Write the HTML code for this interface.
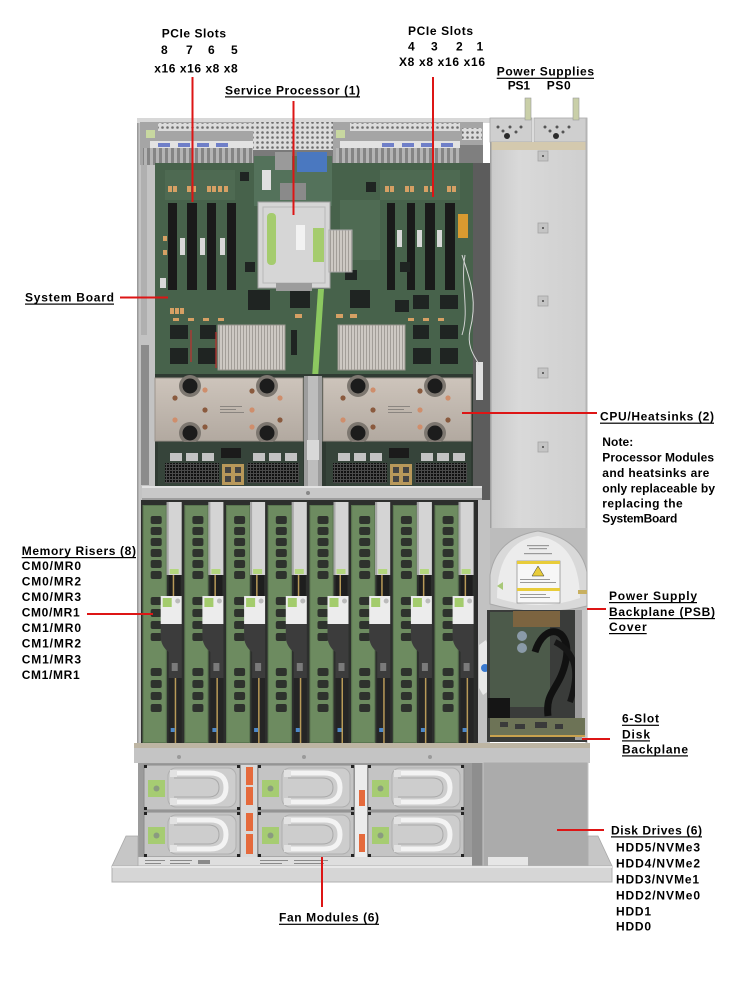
<!DOCTYPE html>
<html><head><meta charset="utf-8">
<style>
html,body{margin:0;padding:0;background:#fff;}
svg{display:block;}
.t{font-family:"Liberation Sans",Arial,sans-serif;font-weight:bold;font-size:12px;fill:#000;}
</style></head><body>
<svg width="735" height="981" viewBox="0 0 735 981" xmlns="http://www.w3.org/2000/svg">
<defs>
  <pattern id="mesh" width="5" height="5" patternUnits="userSpaceOnUse">
    <rect width="5" height="5" fill="#dcdcdc"/><circle cx="2.5" cy="2.5" r="1.3" fill="#6e6e6e"/>
  </pattern>
  <pattern id="vent" width="6" height="6" patternUnits="userSpaceOnUse">
    <rect width="6" height="6" fill="#858585"/><rect x="0" y="0" width="3" height="6" fill="#b4b4b4"/>
  </pattern>
  <pattern id="fins" width="3" height="4" patternUnits="userSpaceOnUse">
    <rect width="3" height="4" fill="#cdc9c3"/><rect width="1" height="4" fill="#a29e98"/>
  </pattern>
  <pattern id="pins" width="3" height="3" patternUnits="userSpaceOnUse">
    <rect width="3" height="3" fill="#4a4a4a"/><rect width="2" height="2" fill="#111"/>
  </pattern>
  <linearGradient id="hs" x1="0" y1="0" x2="0" y2="1">
    <stop offset="0" stop-color="#cdc4bb"/><stop offset="1" stop-color="#b2a9a0"/>
  </linearGradient>
  <linearGradient id="psu" x1="0" y1="0" x2="1" y2="0">
    <stop offset="0" stop-color="#c9c9c9"/><stop offset="0.3" stop-color="#d9d9d9"/><stop offset="1" stop-color="#cfcfcf"/>
  </linearGradient>

  <g id="riser">
    <rect x="0" y="500" width="42" height="245" fill="#2d2f2d"/>
    <rect x="1" y="505" width="24" height="238" fill="#6d8b60"/>
    <rect x="1.5" y="505.5" width="23" height="237" fill="none" stroke="#5a7650" stroke-width="1"/>
    <rect x="9" y="516" width="11" height="8" rx="2" fill="#2e322d"/>
    <rect x="9" y="527" width="11" height="8" rx="2" fill="#2e322d"/>
    <rect x="9" y="538" width="11" height="8" rx="2" fill="#2e322d"/>
    <rect x="9" y="549" width="11" height="8" rx="2" fill="#2e322d"/>
    <rect x="9" y="560" width="11" height="8" rx="2" fill="#2e322d"/>
    <rect x="9" y="571" width="11" height="8" rx="2" fill="#2e322d"/>
    <rect x="9" y="597" width="11" height="8" rx="2" fill="#2e322d"/>
    <rect x="9" y="609" width="11" height="8" rx="2" fill="#2e322d"/>
    <rect x="9" y="621" width="11" height="8" rx="2" fill="#2e322d"/>
    <rect x="9" y="633" width="11" height="8" rx="2" fill="#2e322d"/>
    <rect x="9" y="668" width="11" height="8" rx="2" fill="#2e322d"/>
    <rect x="9" y="680" width="11" height="8" rx="2" fill="#2e322d"/>
    <rect x="9" y="692" width="11" height="8" rx="2" fill="#2e322d"/>
    <rect x="9" y="704" width="11" height="8" rx="2" fill="#2e322d"/>
    <rect x="25" y="502" width="15" height="73" fill="#d4d4d4"/>
    <rect x="25" y="502" width="2" height="73" fill="#a8a8a8"/>
    <rect x="28" y="569" width="9" height="5" fill="#b3d67e"/>
    <rect x="27" y="575" width="12" height="21" fill="#1e1e1e"/>
    <rect x="31" y="575" width="1.5" height="21" fill="#b89a58"/>
    <rect x="19" y="596" width="21" height="28" fill="#ececec"/>
    <rect x="21" y="598" width="9" height="9" fill="#a3cc6c"/>
    <circle cx="36" cy="601" r="2.5" fill="#bbbbbb"/>
    <path d="M19 624 H40 V678 H27 V652 Q19 646 19 636 Z" fill="#3c3c3c"/>
    <rect x="30" y="663" width="6" height="8" fill="#7a7a7a"/>
    <rect x="27" y="678" width="13" height="65" fill="#252525"/>
    <rect x="33" y="678" width="1.5" height="65" fill="#b89a58"/>
    <rect x="29" y="728" width="4" height="4" fill="#4d88c8"/>
  </g>

  <g id="cpu">
    <rect x="0" y="378" width="148" height="63" fill="url(#hs)" stroke="#9c948c"/>
    <circle cx="35" cy="386" r="11" fill="#7d7770"/><circle cx="35" cy="386" r="7.5" fill="#1c1c1c"/>
    <circle cx="112" cy="386" r="11" fill="#7d7770"/><circle cx="112" cy="386" r="7.5" fill="#1c1c1c"/>
    <circle cx="35" cy="433" r="11" fill="#7d7770"/><circle cx="35" cy="433" r="7.5" fill="#1c1c1c"/>
    <circle cx="112" cy="433" r="11" fill="#7d7770"/><circle cx="112" cy="433" r="7.5" fill="#1c1c1c"/>
    <circle cx="50" cy="390" r="2.6" fill="#cf8e6c"/>
    <circle cx="97" cy="391" r="2.6" fill="#8a5a3e"/>
    <circle cx="125" cy="398" r="2.6" fill="#cf8e6c"/>
    <circle cx="20" cy="398" r="2.6" fill="#8a5a3e"/>
    <circle cx="50" cy="410" r="2.6" fill="#8a5a3e"/>
    <circle cx="97" cy="410" r="2.6" fill="#cf8e6c"/>
    <circle cx="20" cy="420" r="2.6" fill="#cf8e6c"/>
    <circle cx="50" cy="427" r="2.6" fill="#8a5a3e"/>
    <circle cx="97" cy="427" r="2.6" fill="#cf8e6c"/>
    <circle cx="125" cy="420" r="2.6" fill="#8a5a3e"/>
    <rect x="65" y="406" width="22" height="1" fill="#8a8580"/>
    <rect x="65" y="409" width="16" height="1" fill="#8a8580"/>
    <rect x="65" y="412" width="24" height="1" fill="#8a8580"/>
    <rect x="3" y="442" width="145" height="45" fill="#36443a"/>
    <rect x="15" y="453" width="12" height="8" fill="#c3c3c3"/>
    <rect x="31" y="453" width="12" height="8" fill="#c3c3c3"/>
    <rect x="47" y="453" width="12" height="8" fill="#c3c3c3"/>
    <rect x="98" y="453" width="12" height="8" fill="#c3c3c3"/>
    <rect x="114" y="453" width="12" height="8" fill="#c3c3c3"/>
    <rect x="130" y="453" width="12" height="8" fill="#c3c3c3"/>
    <rect x="10" y="463" width="54" height="20" fill="url(#pins)"/>
    <rect x="92" y="463" width="52" height="20" fill="url(#pins)"/>
    <rect x="67" y="464" width="22" height="21" fill="#b8985a"/>
    <rect x="70" y="467" width="6" height="6" fill="#444"/>
    <rect x="80" y="467" width="6" height="6" fill="#444"/>
    <rect x="70" y="476" width="6" height="6" fill="#444"/>
    <rect x="80" y="476" width="6" height="6" fill="#444"/>
    <rect x="66" y="448" width="20" height="10" fill="#1b1b1b"/>
  </g>

  <g id="fan">
    <rect x="0" y="0" width="96" height="45" fill="#c4c4c4" stroke="#8c8c8c"/>
    <rect x="24" y="3" width="68" height="39" rx="8" fill="#cdcdcd" stroke="#b0b0b0"/>
    <path d="M30 8 H66 Q82 8 82 22.5 Q82 37 66 37 H30" fill="none" stroke="#f3f3f3" stroke-width="5"/>
    <path d="M30 13 H64 Q75 13 75 22.5 Q75 32 64 32 H30" fill="none" stroke="#a9a9a9" stroke-width="1"/>
    <rect x="26" y="5" width="7" height="7" fill="#e2e2e2"/>
    <rect x="26" y="33" width="7" height="7" fill="#e2e2e2"/>
    <rect x="4" y="15" width="17" height="17" fill="#a6cc72"/>
    <circle cx="12.5" cy="23.5" r="3" fill="#8a9a80"/>
    <rect x="0" y="0" width="3" height="3" fill="#222"/>
    <rect x="93" y="0" width="3" height="3" fill="#222"/>
    <rect x="0" y="42" width="3" height="3" fill="#222"/>
    <rect x="93" y="42" width="3" height="3" fill="#222"/>
  </g>
</defs>

<rect width="735" height="981" fill="#fff"/>

<!-- ================= CHASSIS ================= -->
<!-- left wall -->
<rect x="137" y="119" width="18" height="630" fill="#c3c3c3"/>
<rect x="141" y="165" width="6" height="170" fill="#b0b0b0"/>
<rect x="141" y="345" width="8" height="140" fill="#8c8c8c"/>
<rect x="137" y="119" width="1.5" height="630" fill="#9a9a9a"/>

<!-- rear top -->
<rect x="137" y="118" width="353" height="5" fill="#d8d8d8"/>
<rect x="140" y="122" width="113" height="43" fill="#a5a5a5"/>
<rect x="158" y="123" width="95" height="8" fill="url(#mesh)"/>
<rect x="146" y="130" width="9" height="8" fill="#c8d8a0"/>
<rect x="150" y="141" width="103" height="7" fill="#e2e2e2"/>
<rect x="158" y="143" width="12" height="4" fill="#6f7fc8"/>
<rect x="178" y="143" width="12" height="4" fill="#6f7fc8"/>
<rect x="197" y="143" width="12" height="4" fill="#6f7fc8"/>
<rect x="216" y="143" width="12" height="4" fill="#6f7fc8"/>
<rect x="143" y="148" width="110" height="17" fill="url(#vent)"/>
<rect x="253" y="122" width="80" height="28" fill="url(#mesh)"/>
<rect x="253" y="150" width="80" height="15" fill="#7a7a7a"/>
<rect x="333" y="122" width="150" height="43" fill="#a5a5a5"/>
<rect x="336" y="130" width="9" height="8" fill="#c8d8a0"/>
<rect x="350" y="123" width="110" height="8" fill="url(#mesh)"/>
<rect x="462" y="128" width="20" height="12" fill="url(#mesh)"/>
<rect x="340" y="141" width="120" height="7" fill="#e2e2e2"/>
<rect x="382" y="143" width="12" height="4" fill="#6f7fc8"/>
<rect x="402" y="143" width="12" height="4" fill="#6f7fc8"/>
<rect x="421" y="143" width="12" height="4" fill="#6f7fc8"/>
<rect x="441" y="143" width="12" height="4" fill="#6f7fc8"/>
<rect x="336" y="148" width="124" height="17" fill="url(#vent)"/>
<rect x="460" y="145" width="23" height="20" fill="#7f7f7f"/>

<!-- board -->
<rect x="155" y="163" width="318" height="325" fill="#47624b"/>
<rect x="165" y="170" width="70" height="30" fill="#4e6a52"/>
<rect x="340" y="200" width="40" height="60" fill="#4f6b53"/>
<rect x="380" y="170" width="80" height="30" fill="#4e6a52"/>
<!-- SP daughter board -->
<rect x="254" y="156" width="78" height="50" fill="#54725b"/>
<rect x="275" y="152" width="17" height="18" fill="#9a9a9a"/>
<rect x="297" y="152" width="30" height="20" fill="#4a78c0"/>
<rect x="262" y="170" width="9" height="20" fill="#e0e0e0"/>
<rect x="280" y="183" width="26" height="17" fill="#8a8a8a"/>
<!-- orange caps -->
<g fill="#d6a064">
<rect x="168" y="186" width="4" height="6"/><rect x="173" y="186" width="4" height="6"/>
<rect x="187" y="186" width="4" height="6"/><rect x="192" y="186" width="4" height="6"/>
<rect x="207" y="186" width="4" height="6"/><rect x="212" y="186" width="4" height="6"/>
<rect x="218" y="186" width="4" height="6"/><rect x="224" y="186" width="4" height="6"/>
<rect x="385" y="186" width="4" height="6"/><rect x="390" y="186" width="4" height="6"/>
<rect x="405" y="186" width="4" height="6"/><rect x="410" y="186" width="4" height="6"/>
<rect x="424" y="186" width="4" height="6"/><rect x="430" y="186" width="4" height="6"/>
<rect x="447" y="186" width="4" height="6"/><rect x="452" y="186" width="4" height="6"/>
<rect x="170" y="308" width="4" height="6"/><rect x="175" y="308" width="4" height="6"/><rect x="180" y="308" width="4" height="6"/>
<rect x="173" y="318" width="6" height="3"/><rect x="188" y="318" width="6" height="3"/><rect x="203" y="318" width="6" height="3"/><rect x="218" y="318" width="6" height="3"/>
<rect x="295" y="314" width="7" height="4"/><rect x="336" y="314" width="7" height="4"/><rect x="350" y="314" width="7" height="4"/>
<rect x="408" y="318" width="6" height="3"/><rect x="423" y="318" width="6" height="3"/><rect x="438" y="318" width="6" height="3"/>
<rect x="163" y="236" width="4" height="5"/><rect x="163" y="250" width="4" height="5"/>
</g>
<!-- PCIe slots -->
<g fill="#1a1a1a">
<rect x="168" y="203" width="9" height="87"/><rect x="187" y="203" width="10" height="87"/>
<rect x="207" y="203" width="9" height="87"/><rect x="227" y="203" width="9" height="87"/>
<rect x="387" y="203" width="8" height="87"/><rect x="407" y="203" width="8" height="87"/>
<rect x="425" y="203" width="10" height="87"/><rect x="445" y="203" width="10" height="87"/>
</g>
<g fill="#d8d8d8">
<rect x="180" y="238" width="5" height="17"/><rect x="200" y="238" width="5" height="17"/><rect x="220" y="238" width="5" height="17"/>
<rect x="397" y="230" width="5" height="17"/><rect x="417" y="230" width="5" height="17"/><rect x="437" y="230" width="5" height="17"/>
<rect x="160" y="278" width="6" height="10"/>
</g>
<rect x="458" y="214" width="10" height="24" fill="#d99a30"/>
<!-- chips -->
<g fill="#1f2422">
<rect x="248" y="290" width="22" height="20"/><rect x="290" y="290" width="20" height="18"/>
<rect x="350" y="290" width="20" height="18"/><rect x="395" y="300" width="14" height="12"/>
<rect x="170" y="325" width="18" height="14"/><rect x="200" y="325" width="16" height="14"/>
<rect x="170" y="348" width="18" height="16"/><rect x="198" y="348" width="18" height="16"/>
<rect x="413" y="325" width="16" height="14"/><rect x="440" y="325" width="18" height="14"/>
<rect x="413" y="348" width="18" height="16"/><rect x="440" y="348" width="18" height="16"/>
<rect x="413" y="295" width="16" height="14"/><rect x="440" y="295" width="18" height="14"/>
<rect x="240" y="172" width="9" height="9"/><rect x="366" y="182" width="10" height="10"/>
<rect x="345" y="270" width="12" height="10"/><rect x="291" y="330" width="6" height="25"/>
<rect x="245" y="262" width="10" height="10"/><rect x="400" y="262" width="10" height="10"/>
</g>
<!-- SP card -->
<rect x="258" y="202" width="72" height="86" fill="#d6d6d6" stroke="#a0a0a0"/>
<rect x="263" y="207" width="62" height="76" fill="none" stroke="#b8b8b8"/>
<rect x="267" y="213" width="9" height="52" rx="4" fill="#a5cc6e"/>
<rect x="313" y="228" width="11" height="34" fill="#a5cc6e"/>
<rect x="296" y="225" width="9" height="25" fill="#f2f2f2"/>
<rect x="276" y="283" width="36" height="8" fill="#9c9c9c"/>
<rect x="329" y="230" width="23" height="42" fill="url(#fins)" stroke="#a8a8a8"/>
<!-- small heatsinks -->
<rect x="218" y="325" width="67" height="45" fill="url(#fins)" stroke="#9a968f"/>
<rect x="338" y="325" width="67" height="45" fill="url(#fins)" stroke="#9a968f"/>
<line x1="191" y1="330" x2="191" y2="362" stroke="#c03030" stroke-width="1.2"/>
<line x1="216" y1="332" x2="216" y2="368" stroke="#c03030" stroke-width="1.2"/>
<!-- green cable -->
<polygon points="318,289 324,289 318,378 312,378" fill="#8cc860"/>
<!-- right dark column -->
<rect x="473" y="163" width="17" height="370" fill="#5c5c5c"/>
<rect x="476" y="362" width="7" height="38" fill="#e0e0e0"/>
<path d="M462 255 C470 280, 478 300, 470 330 C466 350, 478 360, 479 365" fill="none" stroke="#d8d8d8" stroke-width="1"/>
<path d="M465 255 C460 285, 470 310, 462 335" fill="none" stroke="#cfcfcf" stroke-width="1"/>

<!-- CPU region -->
<rect x="155" y="374" width="318" height="114" fill="#2f3a32"/>
<use href="#cpu" transform="translate(155,0)"/>
<use href="#cpu" transform="translate(323,0)"/>
<rect x="304" y="376" width="18" height="112" fill="#9d9d9d"/>
<rect x="308" y="376" width="10" height="112" fill="#bdbdbd"/>
<rect x="307" y="440" width="12" height="20" fill="#d8d8d8"/>

<!-- crossbar -->
<rect x="142" y="486" width="340" height="14" fill="#c8c8c8"/>
<rect x="142" y="486" width="340" height="2" fill="#e2e2e2"/>
<rect x="142" y="498" width="340" height="2" fill="#9e9e9e"/>
<circle cx="308" cy="493" r="2" fill="#888"/>

<!-- memory risers -->
<rect x="141" y="500" width="338" height="245" fill="#2c2c2c"/>
<use href="#riser" transform="translate(141.7,0)"/>
<use href="#riser" transform="translate(183.4,0)"/>
<use href="#riser" transform="translate(225.1,0)"/>
<use href="#riser" transform="translate(266.8,0)"/>
<use href="#riser" transform="translate(308.5,0)"/>
<use href="#riser" transform="translate(350.2,0)"/>
<use href="#riser" transform="translate(391.9,0)"/>
<use href="#riser" transform="translate(433.6,0)"/>
<rect x="478" y="500" width="12" height="245" fill="#c2c2c2"/>
<path d="M479 645 L486 640 L490 650 L490 690 L483 695 L479 688 Z" fill="#e8e8e8"/>
<circle cx="485" cy="668" r="4" fill="#3a7ad0"/>

<!-- PSU -->
<rect x="490" y="118" width="42" height="24" fill="#cfcfcf" stroke="#a8a8a8" stroke-width="0.8"/>
<rect x="534" y="118" width="53" height="24" fill="#cfcfcf" stroke="#a8a8a8" stroke-width="0.8"/>
<g fill="#555">
<circle cx="498" cy="127" r="1.5"/><circle cx="503" cy="131" r="1.5"/><circle cx="510" cy="127" r="1.5"/><circle cx="516" cy="132" r="1.5"/><circle cx="521" cy="127" r="1.5"/>
<circle cx="507" cy="136" r="3" fill="#2a2a2a"/>
<circle cx="545" cy="127" r="1.5"/><circle cx="550" cy="131" r="1.5"/><circle cx="557" cy="127" r="1.5"/><circle cx="563" cy="132" r="1.5"/><circle cx="569" cy="127" r="1.5"/>
<circle cx="556" cy="136" r="3" fill="#2a2a2a"/>
</g>
<rect x="525" y="98" width="6" height="22" fill="#c9cfa8" stroke="#9a9a9a" stroke-width="0.6"/>
<rect x="573" y="98" width="6" height="22" fill="#c9cfa8" stroke="#9a9a9a" stroke-width="0.6"/>
<rect x="490" y="142" width="97" height="388" fill="url(#psu)"/>
<rect x="490" y="142" width="97" height="8" fill="#d4c9ae"/>
<rect x="490" y="142" width="1.5" height="388" fill="#a0a0a0"/>
<rect x="585.5" y="118" width="2" height="630" fill="#b4b4b4"/>
<g fill="#c4c4c4" stroke="#a4a4a4" stroke-width="0.8">
<rect x="538" y="151" width="10" height="10"/><rect x="538" y="223" width="10" height="10"/>
<rect x="538" y="296" width="10" height="10"/><rect x="538" y="368" width="10" height="10"/>
<rect x="538" y="442" width="10" height="10"/>
</g>
<g fill="#444">
<circle cx="543" cy="156" r="1"/><circle cx="543" cy="228" r="1"/><circle cx="543" cy="301" r="1"/><circle cx="543" cy="373" r="1"/><circle cx="543" cy="447" r="1"/>
</g>

<!-- PSB cover -->
<rect x="490" y="528" width="97" height="84" fill="#bcbcbc"/>
<path d="M490 604 V575 Q496 538 538 531 Q580 538 587 572 V606 Q540 618 490 604 Z" fill="#d9d9d9" stroke="#a8a8a8"/>
<path d="M497 598 Q497 542 538 536 Q579 542 580 598 Q540 612 497 598 Z" fill="#ececec"/>
<g fill="#9a9a9a">
<rect x="527" y="545" width="22" height="1.2"/><rect x="529" y="548" width="18" height="1.2"/><rect x="524" y="553" width="28" height="1.2"/>
</g>
<rect x="517" y="561" width="43" height="42" fill="#f7f7f7" stroke="#777" stroke-width="0.6"/>
<rect x="517" y="561" width="43" height="3" fill="#e8cc3a"/>
<polygon points="538,566 532,576 544,576" fill="#e8cc3a" stroke="#333" stroke-width="0.5"/>
<rect x="520" y="579" width="30" height="1" fill="#999"/><rect x="520" y="582" width="36" height="1" fill="#999"/>
<rect x="517" y="588" width="43" height="3" fill="#e8cc3a"/>
<rect x="520" y="594" width="26" height="1" fill="#999"/><rect x="520" y="597" width="30" height="1" fill="#999"/>
<rect x="578" y="590" width="9" height="4" fill="#c8b060"/>
<polygon points="497,586 503,582 503,590" fill="#a8c878"/>
<!-- PSB area -->
<rect x="487" y="610" width="100" height="132" fill="#3a3c3a"/>
<rect x="490" y="612" width="60" height="95" fill="#4c5a4a"/>
<rect x="513" y="611" width="47" height="16" fill="#7c6440"/>
<circle cx="522" cy="636" r="5" fill="#8a9aa8"/>
<circle cx="522" cy="648" r="5" fill="#8a9aa8"/>
<path d="M535 652 C545 620, 572 628, 566 660 C560 690, 545 690, 548 716" fill="none" stroke="#111" stroke-width="7"/>
<path d="M555 642 C576 652, 580 672, 570 702" fill="none" stroke="#161616" stroke-width="6"/>
<rect x="575" y="610" width="12" height="130" fill="#9d9d9d"/>
<rect x="582" y="610" width="5" height="130" fill="#c8c8c8"/>
<rect x="488" y="698" width="22" height="20" fill="#151515"/>
<rect x="490" y="718" width="95" height="19" fill="#6d7356"/>
<g fill="#3a3a3a"><rect x="500" y="722" width="8" height="5"/><rect x="515" y="724" width="10" height="5"/><rect x="535" y="722" width="12" height="6"/><rect x="555" y="724" width="8" height="5"/></g>
<rect x="490" y="735" width="95" height="2" fill="#c9a24e"/>

<!-- bottom bar -->
<rect x="134" y="743" width="456" height="20" fill="#c4c4c4"/>
<rect x="134" y="743" width="456" height="5" fill="#bdb5a3"/>
<g fill="#9a9a9a"><circle cx="179" cy="757" r="2"/><circle cx="304" cy="757" r="2"/><circle cx="430" cy="757" r="2"/></g>

<!-- fans -->
<rect x="138" y="763" width="334" height="94" fill="#9b9b9b"/>
<use href="#fan" transform="translate(144,765)"/>
<use href="#fan" transform="translate(258,765)"/>
<use href="#fan" transform="translate(368,765)"/>
<use href="#fan" transform="translate(144,812)"/>
<use href="#fan" transform="translate(258,812)"/>
<use href="#fan" transform="translate(368,812)"/>
<rect x="241" y="765" width="16" height="92" fill="#d9d9d9"/>
<g fill="#e56a3c">
<rect x="246" y="767" width="7" height="18"/><rect x="246" y="787" width="7" height="18"/>
<rect x="246" y="813" width="7" height="18"/><rect x="246" y="834" width="7" height="20"/>
<rect x="359" y="790" width="6" height="16"/><rect x="359" y="834" width="6" height="18"/>
</g>
<rect x="355" y="765" width="12" height="92" fill="#ececec"/>
<rect x="359" y="790" width="6" height="16" fill="#e56a3c"/>
<rect x="359" y="834" width="6" height="18" fill="#e56a3c"/>
<rect x="472" y="763" width="11" height="105" fill="#8e8e8e"/>
<rect x="138" y="857" width="334" height="10" fill="#dedede"/>
<g fill="#8a8a8a">
<rect x="145" y="860" width="20" height="1"/><rect x="145" y="863" width="16" height="1"/>
<rect x="170" y="860" width="22" height="1"/><rect x="170" y="863" width="20" height="1"/>
<rect x="198" y="860" width="12" height="4"/>
<rect x="260" y="860" width="28" height="1"/><rect x="260" y="863" width="22" height="1"/>
<rect x="294" y="860" width="34" height="1"/><rect x="294" y="863" width="30" height="1"/>
</g>
<!-- disk panel -->
<rect x="483" y="762" width="105" height="106" fill="#ababab" stroke="#c6c6c6"/>
<rect x="488" y="857" width="40" height="9" fill="#e6e6e6"/>
<!-- bezel -->
<polygon points="112,866 126,836 138,836 138,866" fill="#c6c6c6" stroke="#a8a8a8" stroke-width="0.8"/>
<polygon points="588,836 598,836 612,866 588,866" fill="#c6c6c6" stroke="#a8a8a8" stroke-width="0.8"/>
<rect x="112" y="866" width="500" height="16" fill="#d6d6d6" stroke="#b0b0b0"/>
<rect x="112" y="866" width="500" height="2" fill="#e8e8e8"/>

<!-- ================= RED LEADERS ================= -->
<g stroke="#dd1515" stroke-width="2" fill="none">
<line x1="192.5" y1="77" x2="192.5" y2="202"/>
<line x1="293.5" y1="101" x2="293.5" y2="215"/>
<line x1="433" y1="77" x2="433" y2="197"/>
<line x1="120" y1="297.5" x2="168" y2="297.5"/>
<line x1="462" y1="413" x2="597" y2="413"/>
<line x1="87" y1="614" x2="153" y2="614"/>
<line x1="587" y1="609" x2="606" y2="609"/>
<line x1="582" y1="739" x2="610" y2="739"/>
<line x1="557" y1="830" x2="604" y2="830"/>
<line x1="322" y1="857" x2="322" y2="907"/>
</g>

<!-- ================= TEXT ================= -->
<g class="t">
<text class="t" x="161.7" y="37.7" textLength="64.3" lengthAdjust="spacing">PCIe Slots</text>
<text class="t" x="161" y="54">8</text>
<text class="t" x="186" y="54">7</text>
<text class="t" x="208" y="54">6</text>
<text class="t" x="231" y="54">5</text>
<text class="t" x="154.3" y="72.7" textLength="83.4" lengthAdjust="spacing">x16 x16 x8 x8</text>

<text class="t" x="408" y="35" textLength="65" lengthAdjust="spacing">PCIe Slots</text>
<text class="t" x="408" y="50.7">4</text>
<text class="t" x="431" y="50.7">3</text>
<text class="t" x="456" y="50.7">2</text>
<text class="t" x="476.5" y="50.7">1</text>
<text class="t" x="399" y="66" textLength="86" lengthAdjust="spacing">X8 x8 x16 x16</text>

<text class="t" x="225" y="94.3" textLength="135" lengthAdjust="spacing">Service Processor (1)</text>
<text class="t" x="496.7" y="75.7" textLength="97.3" lengthAdjust="spacing">Power Supplies</text>
<text class="t" x="507.7" y="89.3" textLength="22.3" lengthAdjust="spacing">PS1</text>
<text class="t" x="546.7" y="89.3" textLength="24" lengthAdjust="spacing">PS0</text>

<text class="t" x="25" y="301.7" textLength="89" lengthAdjust="spacing">System Board</text>

<text class="t" x="600" y="420.7" textLength="114" lengthAdjust="spacing">CPU/Heatsinks (2)</text>
<text class="t" x="602.3" y="446" textLength="31" lengthAdjust="spacing">Note:</text>
<text class="t" x="602.3" y="461.7" textLength="111.7" lengthAdjust="spacing">Processor Modules</text>
<text class="t" x="602.3" y="477" textLength="107" lengthAdjust="spacing">and heatsinks are</text>
<text class="t" x="602.3" y="492.7" textLength="112.7" lengthAdjust="spacing">only replaceable by</text>
<text class="t" x="602.3" y="507.5" textLength="80.4" lengthAdjust="spacing">replacing the</text>
<text class="t" x="602.3" y="522.5" textLength="75" lengthAdjust="spacing">SystemBoard</text>

<text class="t" x="21.7" y="555" textLength="114.3" lengthAdjust="spacing">Memory Risers (8)</text>
<text class="t" x="21.7" y="570" textLength="59.3" lengthAdjust="spacing">CM0/MR0</text>
<text class="t" x="21.7" y="585.7" textLength="59.3" lengthAdjust="spacing">CM0/MR2</text>
<text class="t" x="21.7" y="601" textLength="59.3" lengthAdjust="spacing">CM0/MR3</text>
<text class="t" x="21.7" y="616.7" textLength="58" lengthAdjust="spacing">CM0/MR1</text>
<text class="t" x="21.7" y="632" textLength="59.3" lengthAdjust="spacing">CM1/MR0</text>
<text class="t" x="21.7" y="647.7" textLength="59.3" lengthAdjust="spacing">CM1/MR2</text>
<text class="t" x="21.7" y="663.3" textLength="59.3" lengthAdjust="spacing">CM1/MR3</text>
<text class="t" x="21.7" y="679" textLength="58" lengthAdjust="spacing">CM1/MR1</text>

<text class="t" x="609" y="600" textLength="88" lengthAdjust="spacing">Power Supply</text>
<text class="t" x="609" y="616" textLength="106" lengthAdjust="spacing">Backplane (PSB)</text>
<text class="t" x="609" y="631" textLength="37.7" lengthAdjust="spacing">Cover</text>

<text class="t" x="622" y="722.7" textLength="37" lengthAdjust="spacing">6-Slot</text>
<text class="t" x="622" y="738.3" textLength="28" lengthAdjust="spacing">Disk</text>
<text class="t" x="622" y="753.3" textLength="66" lengthAdjust="spacing">Backplane</text>

<text class="t" x="611" y="834.3" textLength="91" lengthAdjust="spacing">Disk Drives (6)</text>
<text class="t" x="616" y="851.7" textLength="84" lengthAdjust="spacing">HDD5/NVMe3</text>
<text class="t" x="616" y="867.7" textLength="84" lengthAdjust="spacing">HDD4/NVMe2</text>
<text class="t" x="616" y="883.3" textLength="83" lengthAdjust="spacing">HDD3/NVMe1</text>
<text class="t" x="616" y="899.3" textLength="84" lengthAdjust="spacing">HDD2/NVMe0</text>
<text class="t" x="616" y="915.7" textLength="35" lengthAdjust="spacing">HDD1</text>
<text class="t" x="616" y="930.7" textLength="35" lengthAdjust="spacing">HDD0</text>

<text class="t" x="279" y="921.7" textLength="100" lengthAdjust="spacing">Fan Modules (6)</text>
</g>

<!-- underlines -->
<g fill="#000">
<rect x="225" y="96.3" width="135" height="1.2"/>
<rect x="496.7" y="77.7" width="97.3" height="1.2"/>
<rect x="25" y="303.5" width="89" height="1.2"/>
<rect x="600" y="422.6" width="114" height="1.2"/>
<rect x="21.7" y="557" width="114.3" height="1.2"/>
<rect x="609" y="602" width="88" height="1.2"/>
<rect x="609" y="618" width="106" height="1.2"/>
<rect x="609" y="633" width="37.7" height="1.2"/>
<rect x="622" y="724.7" width="37" height="1.2"/>
<rect x="622" y="740.3" width="28" height="1.2"/>
<rect x="622" y="755.3" width="66" height="1.2"/>
<rect x="611" y="836.3" width="91" height="1.2"/>
<rect x="279" y="923.7" width="100" height="1.2"/>
</g>
</svg>
</body></html>
